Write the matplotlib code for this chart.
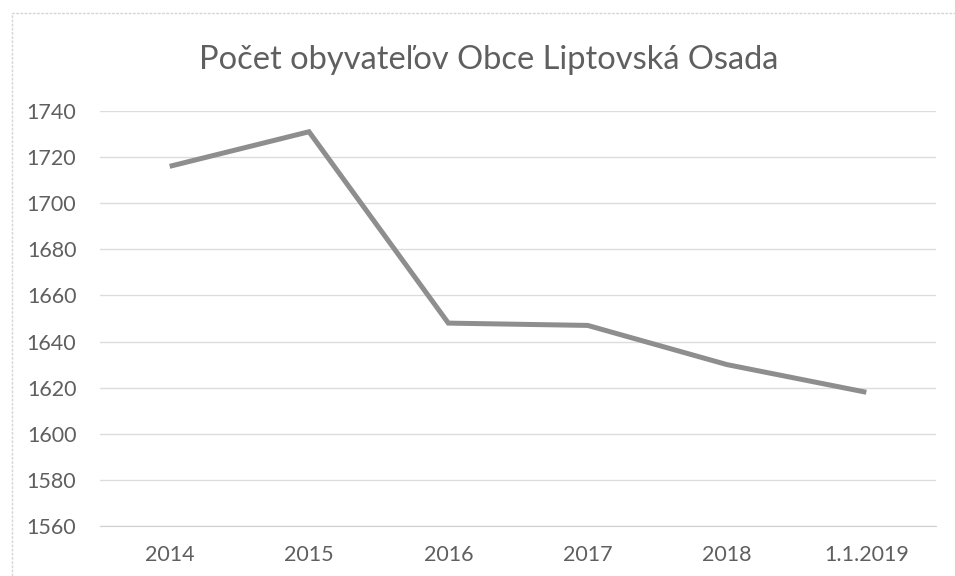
import matplotlib
matplotlib.use("Agg")
import matplotlib.pyplot as plt
from matplotlib.patches import Rectangle

years = ["2014", "2015", "2016", "2017", "2018", "1.1.2019"]
population = [1716, 1731, 1648, 1647, 1630, 1618]
y_ticks = list(range(1560, 1741, 20))

plt.rcParams['font.family'] = ['Lato', 'DejaVu Sans']
text_col = '#5f5f5f'

fig = plt.figure(figsize=(9.55, 5.76), dpi=100)
# faint scanned chart frame
fig.patches.append(Rectangle((12 / 955, -0.1), 1.2, 1.1 - 13 / 576,
                             transform=fig.transFigure, fill=False,
                             edgecolor='#d6d6d6', linewidth=1.0, linestyle=(0, (2, 1))))

ax = fig.add_axes([100 / 955, 1 - 526 / 576, 836 / 955, 415 / 576])
x = range(len(years))
ax.plot(x, population, color='#8e8e8e', linewidth=3.6, solid_capstyle='butt', solid_joinstyle='miter')

ax.set_xlim(-0.5, len(years) - 0.5)
ax.set_ylim(1560, 1740)
ax.set_yticks(y_ticks)
ax.set_xticks(list(x))
ax.set_xticklabels(years)
ax.grid(axis='y', color='#dcdcdc', linewidth=1.0)
ax.set_axisbelow(True)
for s in ['top', 'right', 'left']:
    ax.spines[s].set_visible(False)
ax.spines['bottom'].set_color('#d0d0d0')
ax.tick_params(axis='both', length=0, labelsize=15.5, labelcolor=text_col)
ax.tick_params(axis='y', pad=17)
ax.tick_params(axis='x', pad=14)

fig.text(489 / 955, 1 - 60 / 576, "Počet obyvateľov Obce Liptovská Osada",
         ha='center', va='center', fontsize=23.5, color=text_col)

fig.savefig("out.png", dpi=100)
